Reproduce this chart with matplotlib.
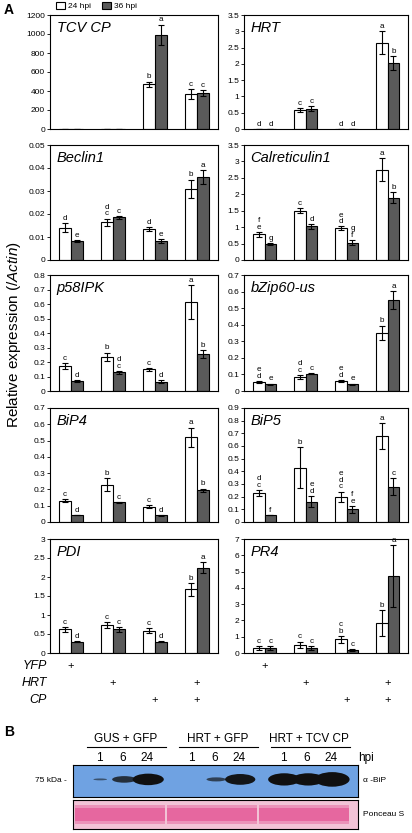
import numpy as np
import matplotlib.pyplot as plt
from matplotlib.patches import Patch, Ellipse, Rectangle
from matplotlib.transforms import blended_transform_factory

plt.rcParams['font.family'] = ['Liberation Sans', 'DejaVu Sans']
plt.rcParams['mathtext.fontset'] = 'custom'
plt.rcParams['mathtext.it'] = 'Liberation Sans:italic'
plt.rcParams['mathtext.rm'] = 'Liberation Sans'

W, H = 412, 833

# ---- panel A data: (24 hpi mean, 24 hpi err, 36 hpi mean, 36 hpi err, letters) ----
genes = ["TCV CP", "HRT", "Beclin1", "Calreticulin1", "p58IPK",
         "bZip60-us", "BiP4", "BiP5", "PDI", "PR4"]

tcvcp_24 = [2, 2, 470, 370];          tcvcp_24e = [0, 0, 30, 50]
tcvcp_36 = [2, 2, 990, 380];          tcvcp_36e = [0, 0, 110, 30]
tcvcp_l24 = ["", "", "b", "c"];       tcvcp_l36 = ["", "", "a", "c"]

hrt_24 = [0.01, 0.58, 0.01, 2.65];    hrt_24e = [0, 0.06, 0, 0.35]
hrt_36 = [0.01, 0.62, 0.01, 2.03];    hrt_36e = [0, 0.08, 0, 0.22]
hrt_l24 = ["d", "c", "d", "a"];       hrt_l36 = ["d", "c", "d", "b"]

becl_24 = [0.014, 0.0165, 0.0135, 0.031];   becl_24e = [0.002, 0.0015, 0.001, 0.004]
becl_36 = [0.0083, 0.0185, 0.0082, 0.036];  becl_36e = [0.0003, 0.0005, 0.001, 0.003]
becl_l24 = ["d", "d\nc", "d", "b"];         becl_l36 = ["e", "c", "e", "a"]

calr_24 = [0.78, 1.5, 0.97, 2.75];    calr_24e = [0.08, 0.07, 0.05, 0.35]
calr_36 = [0.48, 1.02, 0.53, 1.9];    calr_36e = [0.03, 0.08, 0.08, 0.17]
calr_l24 = ["f\ne", "c", "e\nd", "a"]; calr_l36 = ["g", "d", "g\nf", "b"]

p58_24 = [0.17, 0.235, 0.15, 0.615];  p58_24e = [0.02, 0.03, 0.01, 0.115]
p58_36 = [0.07, 0.13, 0.065, 0.255];  p58_36e = [0.005, 0.01, 0.008, 0.03]
p58_l24 = ["c", "b", "c", "a"];       p58_l36 = ["d", "d\nc", "d", "b"]

bzip_24 = [0.055, 0.085, 0.06, 0.35]; bzip_24e = [0.005, 0.01, 0.005, 0.045]
bzip_36 = [0.04, 0.105, 0.04, 0.55];  bzip_36e = [0.005, 0.005, 0.005, 0.055]
bzip_l24 = ["e\nd", "d\nc", "e\nd", "b"]; bzip_l36 = ["e", "c", "e", "a"]

bip4_24 = [0.13, 0.23, 0.095, 0.52]; bip4_24e = [0.01, 0.04, 0.008, 0.06]
bip4_36 = [0.045, 0.12, 0.04, 0.195]; bip4_36e = [0, 0.005, 0.005, 0.01]
bip4_l24 = ["c", "b", "c", "a"];      bip4_l36 = ["d", "c", "d", "b"]

bip5_24 = [0.23, 0.43, 0.2, 0.68];    bip5_24e = [0.025, 0.16, 0.04, 0.1]
bip5_36 = [0.055, 0.16, 0.1, 0.28];   bip5_36e = [0.003, 0.045, 0.025, 0.065]
bip5_l24 = ["d\nc", "b", "e\nd\nc", "a"]; bip5_l36 = ["f", "e\nd", "f\ne", "c"]

pdi_24 = [0.62, 0.74, 0.59, 1.68];    pdi_24e = [0.06, 0.08, 0.06, 0.17]
pdi_36 = [0.3, 0.62, 0.3, 2.25];      pdi_36e = [0.02, 0.06, 0.02, 0.14]
pdi_l24 = ["c", "c", "c", "b"];       pdi_l36 = ["d", "c", "d", "a"]

pr4_24 = [0.3, 0.5, 0.83, 1.85];      pr4_24e = [0.1, 0.2, 0.2, 0.8]
pr4_36 = [0.3, 0.33, 0.2, 4.75];      pr4_36e = [0.12, 0.12, 0.05, 1.9]
pr4_l24 = ["c", "c", "c\nb", "b"];    pr4_l36 = ["c", "c", "c", "a"]

series = [
    (tcvcp_24, tcvcp_24e, tcvcp_36, tcvcp_36e, tcvcp_l24, tcvcp_l36, 1200, 200),
    (hrt_24, hrt_24e, hrt_36, hrt_36e, hrt_l24, hrt_l36, 3.5, 0.5),
    (becl_24, becl_24e, becl_36, becl_36e, becl_l24, becl_l36, 0.05, 0.01),
    (calr_24, calr_24e, calr_36, calr_36e, calr_l24, calr_l36, 3.5, 0.5),
    (p58_24, p58_24e, p58_36, p58_36e, p58_l24, p58_l36, 0.8, 0.1),
    (bzip_24, bzip_24e, bzip_36, bzip_36e, bzip_l24, bzip_l36, 0.7, 0.1),
    (bip4_24, bip4_24e, bip4_36, bip4_36e, bip4_l24, bip4_l36, 0.7, 0.1),
    (bip5_24, bip5_24e, bip5_36, bip5_36e, bip5_l24, bip5_l36, 0.9, 0.1),
    (pdi_24, pdi_24e, pdi_36, pdi_36e, pdi_l24, pdi_l36, 3, 0.5),
    (pr4_24, pr4_24e, pr4_36, pr4_36e, pr4_l24, pr4_l36, 7, 1),
]

treat_names = ["YFP", "HRT", "CP"]
treat_yfp = [1, 0, 0, 0]
treat_hrt = [0, 1, 0, 1]
treat_cp = [0, 0, 1, 1]

# ---- panel B data ----
blot_groups = ["GUS + GFP", "HRT + GFP", "HRT + TCV CP"]
blot_times = ["1", "6", "24"]
bip_signal = [[0.25, 0.65, 1.0], [0.0, 0.45, 0.95], [1.05, 1.05, 1.2]]

DARK = "#5a5a5a"


def px_axes(x0, y0, x1, y1):
    return fig.add_axes([x0 / W, 1 - y1 / H, (x1 - x0) / W, (y1 - y0) / H])


def fmt(v):
    s = ("%.3f" % v).rstrip("0").rstrip(".")
    return s if s else "0"


fig = plt.figure(figsize=(W / 100, H / 100), dpi=100)

cols = [(50, 218), (244, 408)]
rows = [(15, 129), (145, 260), (275, 391), (408, 522), (539, 653)]
bw = 0.29
x = np.arange(4)
axes = []
for i, (g, s) in enumerate(zip(genes, series)):
    m24, e24, m36, e36, l24, l36, ymax, step = s
    cx0, cx1 = cols[i % 2]
    ry0, ry1 = rows[i // 2]
    ax = px_axes(cx0, ry0, cx1, ry1)
    axes.append(ax)
    ek = dict(ecolor="black", elinewidth=0.8, capsize=2.2, capthick=0.8)
    ax.bar(x - bw / 2, m24, bw, yerr=e24, color="white", edgecolor="black",
           linewidth=0.8, error_kw=ek)
    ax.bar(x + bw / 2, m36, bw, yerr=e36, color=DARK, edgecolor="black",
           linewidth=0.8, error_kw=ek)
    for xi, m, e, lab in zip(x - bw / 2, m24, e24, l24):
        ax.text(xi, m + e + ymax * 0.01, lab, ha="center", va="bottom",
                fontsize=5.8, linespacing=0.95)
    for xi, m, e, lab in zip(x + bw / 2, m36, e36, l36):
        ax.text(xi, m + e + ymax * 0.01, lab, ha="center", va="bottom",
                fontsize=5.8, linespacing=0.95)
    ax.set_xlim(-0.5, 3.5)
    ax.set_ylim(0, ymax)
    ticks = np.arange(0, ymax + step / 2, step)
    ax.set_yticks(ticks)
    ax.set_yticklabels([fmt(t) for t in ticks])
    ax.set_xticks([])
    ax.tick_params(axis="y", labelsize=6, length=2, width=0.6, pad=1.5)
    for sp in ax.spines.values():
        sp.set_linewidth(0.8)
    ax.text(0.04, 0.95, g, transform=ax.transAxes, ha="left", va="top",
            fontsize=10.5, style="italic")

# treatment rows under the bottom panels
treat_y = [666, 683, 700]
for ax in axes[-2:]:
    tr = blended_transform_factory(ax.transData, fig.transFigure)
    for vals, ty in zip([treat_yfp, treat_hrt, treat_cp], treat_y):
        for xi, v in zip(x, vals):
            if v:
                ax.text(xi, 1 - ty / H, "+", transform=tr, ha="center",
                        va="center", fontsize=8, clip_on=False)
for name, ty in zip(treat_names, treat_y):
    fig.text(47 / W, 1 - ty / H, name, ha="right", va="center",
             fontsize=9, style="italic")

fig.text(14 / W, 1 - 335 / H, "Relative expression (/$\\mathit{Actin}$)",
         rotation=90, ha="center", va="center", fontsize=11)

fig.text(4 / W, 1 - 3 / H, "A", fontsize=10, fontweight="bold", va="top")
handles = [Patch(facecolor="white", edgecolor="black", linewidth=0.8),
           Patch(facecolor=DARK, edgecolor="black", linewidth=0.8)]
fig.legend(handles, ["24 hpi", "36 hpi"], loc="center left",
           bbox_to_anchor=(56 / W, 1 - 6 / H), ncol=2, frameon=False,
           fontsize=6, handlelength=1.1, handleheight=0.9, handletextpad=0.4,
           columnspacing=1.2, borderpad=0, borderaxespad=0)

# ---- panel B: western blot ----
fig.text(4 / W, 1 - 732 / H, "B", fontsize=10, fontweight="bold", va="center")
bx0, bx1 = 73, 358
unit = 24.0
xmax = (bx1 - bx0) / unit
lane_off = 26 / unit
gstep = 92 / unit


def lane_x(gi, ti):
    return lane_off + gi * gstep + ti


# header axes (labels, numbers, underlines) share blot x scale
hax = px_axes(bx0, 733, bx1, 765)
hax.set_xlim(0, xmax)
hax.set_ylim(1, 0)
hax.axis("off")
for gi, gname in enumerate(blot_groups):
    xs = [lane_x(gi, t) for t in range(3)]
    hax.text(np.mean(xs) + 0.1, 0.2, gname, ha="center", va="center", fontsize=8.5)
    hax.plot([xs[0] - 0.5, xs[-1] + 0.8], [0.45, 0.45], color="black", lw=0.8)
    for ti, t in enumerate(blot_times):
        hax.text(xs[ti], 0.78, t, ha="center", va="center", fontsize=8.5)
hax.text(lane_x(2, 2) + 1.15, 0.78, "hpi", ha="left", va="center", fontsize=8.5,
         clip_on=False)

bax = px_axes(bx0, 765, bx1, 797)
bax.set_xlim(0, xmax)
bax.set_ylim(0, 1)
bax.set_facecolor("#6fa2e2")
bax.set_xticks([]); bax.set_yticks([])
for sp in bax.spines.values():
    sp.set_linewidth(0.8)
for gi in range(3):
    for ti in range(3):
        v = bip_signal[gi][ti]
        if v <= 0:
            continue
        bax.add_patch(Ellipse((lane_x(gi, ti) + 0.05, 0.55), 1.3 * v ** 0.6,
                              0.36 * v ** 1.3, color="#101010", alpha=min(1, 0.4 + 0.6 * v),
                              lw=0))
fig.text(67 / W, 1 - 780 / H, "75 kDa -", ha="right", va="center", fontsize=6)
fig.text(363 / W, 1 - 780 / H, "\u03b1 -BiP", ha="left", va="center", fontsize=6)

pax = px_axes(bx0, 800, bx1, 829)
pax.set_xlim(0, xmax)
pax.set_ylim(0, 1)
pax.set_facecolor("#f2c3d6")
pax.set_xticks([]); pax.set_yticks([])
for sp in pax.spines.values():
    sp.set_linewidth(0.8)
for gi in range(3):
    left = lane_x(gi, 0) - 1.0
    pax.add_patch(Rectangle((left, 0.28), 3.75, 0.46, color="#e6679f", lw=0))
    pax.add_patch(Rectangle((left, 0.18), 3.75, 0.1, color="#eb93b9", lw=0))
    pax.add_patch(Rectangle((left, 0.74), 3.75, 0.1, color="#eb93b9", lw=0))
fig.text(363 / W, 1 - 815 / H, "Ponceau S", ha="left", va="center", fontsize=6)

fig.savefig("out.png", dpi=100)
